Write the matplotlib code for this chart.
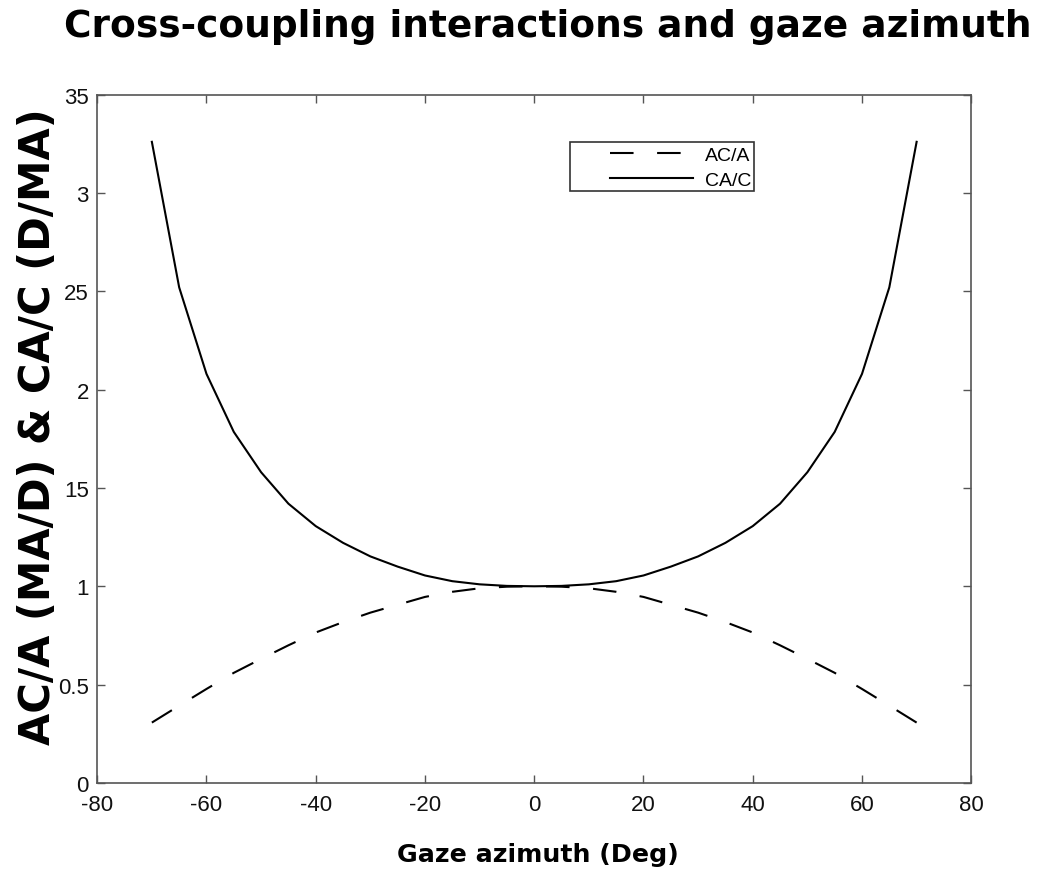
import numpy as np
import matplotlib
matplotlib.use("Agg")
import matplotlib.pyplot as plt
from matplotlib.patches import Rectangle

# data (gaze azimuth in degrees)
azimuth = [-70, -65, -60, -55, -50, -45, -40, -35, -30, -25, -20, -15, -10, -5,
           0, 5, 10, 15, 20, 25, 30, 35, 40, 45, 50, 55, 60, 65, 70]
ac_a = [0.307, 0.393, 0.478, 0.560, 0.631, 0.700, 0.765, 0.818, 0.866, 0.906,
        0.946, 0.972, 0.990, 0.998, 1.000, 0.998, 0.990, 0.972, 0.946, 0.906,
        0.866, 0.818, 0.765, 0.700, 0.631, 0.560, 0.478, 0.393, 0.307]
ca_c = [3.26, 2.52, 2.08, 1.785, 1.58, 1.42, 1.306, 1.221, 1.152, 1.100,
        1.055, 1.026, 1.010, 1.002, 1.000, 1.002, 1.010, 1.026, 1.055, 1.100,
        1.152, 1.221, 1.306, 1.42, 1.58, 1.785, 2.08, 2.52, 3.26]

xticks = [-80, -60, -40, -20, 0, 20, 40, 60, 80]
yticks = [0, 0.5, 1, 1.5, 2, 2.5, 3, 3.5]
ytick_labels = ["0", "0.5", "1", "15", "2", "25", "3", "35"]

plt.rcParams['font.family'] = ['Liberation Sans', 'DejaVu Sans']
plt.rcParams['xtick.direction'] = 'in'
plt.rcParams['ytick.direction'] = 'in'

spine_col = "#555555"
bold_font = ['DejaVu Sans']
dpi = 100

fig = plt.figure(figsize=(10.5, 8.78), dpi=dpi)
ax = fig.add_axes([0.0926, 0.1071, 0.8324, 0.7840])

ax.set_xlim(-80, 80)
ax.set_ylim(0, 3.5)

lw = 1.5
ax.plot(azimuth, ca_c, color="black", linewidth=lw, label="CA/C")

# dash length chosen so the dashed curve starts and ends on a dash
pts = ax.transData.transform(np.column_stack([azimuth, ac_a]))
path_len = np.sum(np.hypot(*np.diff(pts, axis=0).T)) * 72 / dpi / lw
n = round((path_len - 11) / 22)
d = path_len / (2 * n + 1)
ax.plot(azimuth, ac_a, color="black", linewidth=lw, dashes=(d, d),
        label="AC/A")

ax.set_xticks(xticks)
ax.set_xticklabels([str(t) for t in xticks])
ax.set_yticks(yticks)
ax.set_yticklabels(ytick_labels)
ax.tick_params(axis='both', which='major', labelsize=16, length=6,
               width=1, color=spine_col, labelcolor="#111111",
               top=True, right=True)
ax.tick_params(axis='x', pad=8)
ax.tick_params(axis='y', pad=6)
for s in ax.spines.values():
    s.set_color(spine_col)
    s.set_linewidth(1.2)

# legend (MATLAB style: wide box, entries pushed to the right)
handles, labels = ax.get_legend_handles_labels()
leg = ax.legend(handles[::-1], labels[::-1], loc='upper right',
                bbox_to_anchor=(0.753, 0.931), frameon=False, fontsize=14,
                handlelength=4.3, handletextpad=0.6, labelspacing=0.4,
                borderaxespad=0.0, borderpad=0.2)
ax.add_patch(Rectangle((0.541, 0.8605), 0.210, 0.0712, transform=ax.transAxes,
                       fill=False, edgecolor="#333333", linewidth=1.2,
                       zorder=5))

fig.text(548 / 1050, 1 - 37 / 878, "Cross-coupling interactions and gaze azimuth",
         ha='center', va='baseline', fontsize=27, fontweight='bold',
         family=bold_font)
fig.text(538 / 1050, 1 - 862 / 878, "Gaze azimuth (Deg)",
         ha='center', va='baseline', fontsize=18.2, fontweight='bold',
         family=bold_font)
fig.text(38 / 1050, 1 - 427 / 878, "AC/A (MA/D) & CA/C (D/MA)",
         ha='center', va='center', rotation=90, fontsize=30, fontweight='bold',
         family=bold_font)

fig.savefig("out.png", dpi=dpi, facecolor="white")
